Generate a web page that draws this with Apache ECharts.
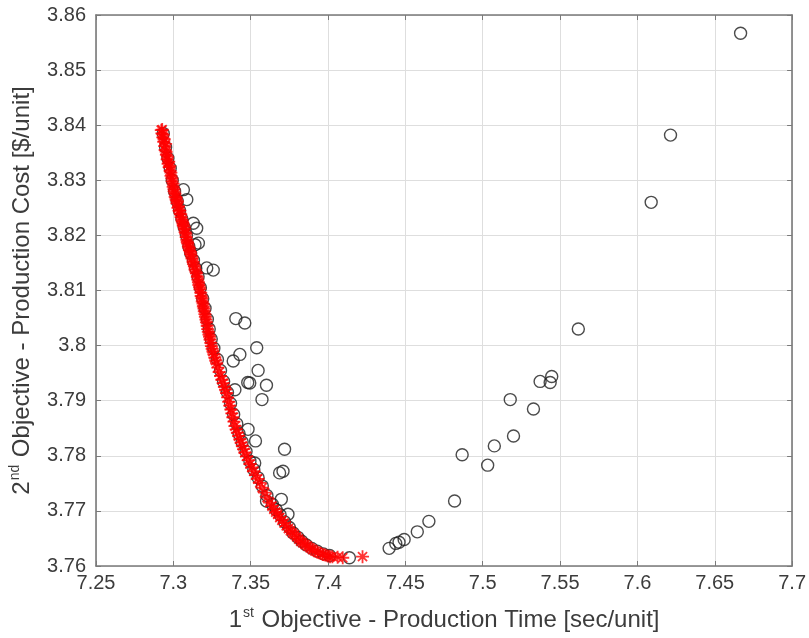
<!DOCTYPE html>
<html>
<head>
<meta charset="utf-8">
<script src="https://cdn.jsdelivr.net/npm/echarts@6/dist/echarts.min.js"></script>
<style>
  html, body { margin: 0; padding: 0; background: #fff; }
  #chart { width: 809px; height: 638px; }
</style>
</head>
<body>
<div id="chart"></div>
<script>
// x = production time [sec/unit], y = production cost [$/unit]
const xTicks = [7.25, 7.3, 7.35, 7.4, 7.45, 7.5, 7.55, 7.6, 7.65, 7.7];
const yTicks = [3.76, 3.77, 3.78, 3.79, 3.8, 3.81, 3.82, 3.83, 3.84, 3.85, 3.86];

// non-dominated solutions (red asterisks)
const paretoFront = [
  [7.2922, 3.8391], [7.2926, 3.8385], [7.2932, 3.8378], [7.2938, 3.8370], [7.2944, 3.8362],
  [7.2947, 3.8355], [7.2955, 3.8346], [7.2960, 3.8338], [7.2966, 3.8330], [7.2973, 3.8324],
  [7.2979, 3.8317], [7.2985, 3.8308], [7.2992, 3.8298], [7.2999, 3.8288], [7.3005, 3.8280],
  [7.3012, 3.8270], [7.3018, 3.8265], [7.3023, 3.8258], [7.3030, 3.8250], [7.3037, 3.8245],
  [7.3043, 3.8240], [7.3050, 3.8233], [7.3058, 3.8225], [7.3064, 3.8218], [7.3072, 3.8212],
  [7.3076, 3.8206], [7.3083, 3.8197], [7.3090, 3.8188], [7.3097, 3.8180], [7.3104, 3.8173],
  [7.3112, 3.8166], [7.3121, 3.8158], [7.3130, 3.8148], [7.3140, 3.8138], [7.3151, 3.8131],
  [7.3158, 3.8120], [7.3165, 3.8110], [7.3172, 3.8102], [7.3180, 3.8090], [7.3187, 3.8080],
  [7.3194, 3.8071], [7.3200, 3.8062], [7.3207, 3.8052], [7.3214, 3.8042], [7.3222, 3.8030],
  [7.3230, 3.8020], [7.3237, 3.8011], [7.3246, 3.7999], [7.3256, 3.7989], [7.3268, 3.7978],
  [7.3280, 3.7968], [7.3296, 3.7952], [7.3314, 3.7938], [7.3330, 3.7925], [7.3344, 3.7914],
  [7.3358, 3.7898], [7.3372, 3.7884], [7.3385, 3.7870], [7.3398, 3.7854], [7.3414, 3.7842],
  [7.3430, 3.7830], [7.3446, 3.7818], [7.3462, 3.7806], [7.3485, 3.7792], [7.3507, 3.7779],
  [7.3532, 3.7765], [7.3559, 3.7751], [7.3590, 3.7733], [7.3623, 3.7715], [7.3650, 3.7703],
  [7.3674, 3.7694], [7.3702, 3.7683], [7.3730, 3.7673], [7.3757, 3.7664], [7.3784, 3.7657],
  [7.3810, 3.7649], [7.3837, 3.7642], [7.3868, 3.7636], [7.3900, 3.7630], [7.3932, 3.7625],
  [7.3966, 3.7621], [7.3998, 3.7618], [7.4028, 3.7617], [7.4095, 3.7615], [7.4223, 3.7617],
  [7.2928, 3.8392], [7.2934, 3.8383], [7.2940, 3.8375], [7.2950, 3.8366], [7.2953, 3.8352],
  [7.2962, 3.8343], [7.2970, 3.8334], [7.2977, 3.8326], [7.2984, 3.8314], [7.2990, 3.8304],
  [7.2998, 3.8294], [7.3004, 3.8284], [7.3010, 3.8276], [7.3017, 3.8268], [7.3026, 3.8262],
  [7.3033, 3.8253], [7.3042, 3.8245], [7.3048, 3.8238], [7.3055, 3.8228], [7.3062, 3.8222],
  [7.3070, 3.8216], [7.3080, 3.8203], [7.3087, 3.8192], [7.3093, 3.8185], [7.3102, 3.8177],
  [7.3110, 3.8170], [7.3118, 3.8162], [7.3127, 3.8152], [7.3136, 3.8144], [7.3146, 3.8134],
  [7.3155, 3.8125], [7.3162, 3.8115], [7.3170, 3.8106], [7.3177, 3.8096], [7.3185, 3.8086],
  [7.3192, 3.8076], [7.3198, 3.8067], [7.3204, 3.8057], [7.3211, 3.8047], [7.3219, 3.8036],
  [7.3226, 3.8025], [7.3234, 3.8016], [7.3242, 3.8005], [7.3251, 3.7994], [7.3262, 3.7984],
  [7.3274, 3.7973], [7.3288, 3.7960], [7.3305, 3.7945], [7.3322, 3.7932], [7.3337, 3.7920],
  [7.3351, 3.7906], [7.3365, 3.7891], [7.3378, 3.7877], [7.3392, 3.7862], [7.3406, 3.7848],
  [7.3422, 3.7836], [7.3438, 3.7824], [7.3454, 3.7812], [7.3473, 3.7799], [7.3496, 3.7785],
  [7.3520, 3.7772], [7.3545, 3.7758], [7.3574, 3.7742], [7.3606, 3.7724], [7.3637, 3.7709],
  [7.3662, 3.7698], [7.3688, 3.7688], [7.3716, 3.7678], [7.3744, 3.7668], [7.3770, 3.7660],
  [7.3797, 3.7653], [7.3823, 3.7645], [7.3852, 3.7639], [7.3884, 3.7633], [7.3916, 3.7627],
  [7.3950, 3.7623], [7.3982, 3.7620], [7.4013, 3.7617], [7.4062, 3.7616]
];

// whole population (black circles)
const population = [
  // along the front
  [7.2935, 3.8385], [7.2950, 3.8360], [7.2965, 3.8340], [7.2980, 3.8322], [7.2993, 3.8300],
  [7.3008, 3.8280], [7.3025, 3.8262], [7.3040, 3.8245], [7.3055, 3.8230], [7.3070, 3.8215],
  [7.3085, 3.8200], [7.3100, 3.8180], [7.3112, 3.8168], [7.3130, 3.8155], [7.3145, 3.8140],
  [7.3160, 3.8125], [7.3175, 3.8105], [7.3190, 3.8085], [7.3205, 3.8068], [7.3220, 3.8048],
  [7.3232, 3.8030], [7.3245, 3.8012], [7.3262, 3.7995], [7.3285, 3.7975], [7.3305, 3.7955],
  [7.3325, 3.7935], [7.3350, 3.7915], [7.3370, 3.7895], [7.3390, 3.7875], [7.3410, 3.7858],
  [7.3425, 3.7840], [7.3445, 3.7825], [7.3470, 3.7808], [7.3495, 3.7790], [7.3520, 3.7775],
  [7.3548, 3.7760], [7.3575, 3.7745], [7.3605, 3.7728], [7.3640, 3.7712], [7.3665, 3.7702],
  [7.3690, 3.7693], [7.3720, 3.7680], [7.3750, 3.7670], [7.3775, 3.7660], [7.3805, 3.7652],
  [7.3830, 3.7645], [7.3860, 3.7638], [7.3895, 3.7632], [7.3930, 3.7627], [7.3970, 3.7622],
  [7.4010, 3.7619],
  // off the front, left branch
  [7.3065, 3.8283], [7.3087, 3.8265], [7.3129, 3.8222], [7.3151, 3.8213], [7.3140, 3.8183],
  [7.3162, 3.8186], [7.3216, 3.8141], [7.3258, 3.8137], [7.3404, 3.8049], [7.3462, 3.8041],
  [7.3539, 3.7996], [7.3430, 3.7984], [7.3387, 3.7972], [7.3548, 3.7955], [7.3494, 3.7932],
  [7.3481, 3.7933], [7.3602, 3.7928], [7.3573, 3.7902], [7.3398, 3.7920], [7.3483, 3.7848],
  [7.3531, 3.7827], [7.3719, 3.7812], [7.3709, 3.7772], [7.3687, 3.7769], [7.3526, 3.7787],
  [7.3698, 3.7721], [7.3741, 3.7694], [7.3602, 3.7718], [7.4138, 3.7615],
  // right branch
  [7.4395, 3.7632], [7.4438, 3.7641], [7.4459, 3.7643], [7.4492, 3.7648], [7.4577, 3.7662],
  [7.4652, 3.7681], [7.4818, 3.7718], [7.4867, 3.7802], [7.5032, 3.7783], [7.5075, 3.7818],
  [7.5199, 3.7836], [7.5178, 3.7902], [7.5328, 3.7885], [7.5371, 3.7935], [7.5436, 3.7933],
  [7.5446, 3.7944], [7.5618, 3.8030], [7.6089, 3.8260], [7.6214, 3.8382], [7.6667, 3.8567]
];

const asterisk = 'path://M0,5L10,5M5,0L5,10M1.5,1.5L8.5,8.5M8.5,1.5L1.5,8.5';
const fmt = (v) => String(+v.toFixed(2));
const font = 'Liberation Sans, Arial, sans-serif';
const axisCol = '#7a7a7a';
const textCol = '#3c3c3c';

const chart = echarts.init(document.getElementById('chart'), null, { renderer: 'canvas' });

const baseAxis = {
  axisLine: { show: true, onZero: false, lineStyle: { color: axisCol, width: 1.6 } },
  axisTick: { show: true, inside: true, length: 5, lineStyle: { color: axisCol, width: 1 } },
  splitLine: { show: false },
};
const titleRich = {
  n: { fontSize: 24, fontFamily: font, color: textCol, lineHeight: 28 },
  s: { fontSize: 14, fontFamily: font, color: textCol, lineHeight: 28, verticalAlign: 'top', padding: [0, 1, 11, 1] }
};

chart.setOption({
  backgroundColor: '#fff',
  animation: false,
  grid: { left: 96, right: 15, top: 15, bottom: 72, containLabel: false },
  xAxis: [
    {
      ...baseAxis,
      type: 'value', min: xTicks[0], max: xTicks[xTicks.length - 1], interval: 0.05,
      axisLabel: { color: textCol, fontSize: 20, fontFamily: font, margin: 7, formatter: fmt },
      splitLine: { show: true, lineStyle: { color: '#dedede', width: 1 } },
      name: '{n|1}{s|st}{n| Objective - Production Time [sec/unit]}',
      nameLocation: 'middle', nameGap: 40,
      nameTextStyle: { color: textCol, fontFamily: font, rich: titleRich }
    },
    {
      ...baseAxis,
      type: 'value', position: 'top', min: xTicks[0], max: xTicks[xTicks.length - 1], interval: 0.05,
      axisLabel: { show: false }
    }
  ],
  yAxis: [
    {
      ...baseAxis,
      type: 'value', min: yTicks[0], max: yTicks[yTicks.length - 1], interval: 0.01,
      axisLabel: { color: textCol, fontSize: 20, fontFamily: font, margin: 10, formatter: fmt },
      splitLine: { show: true, lineStyle: { color: '#dedede', width: 1 } },
      name: '{n|2}{s|nd}{n| Objective - Production Cost [$/unit]}',
      nameLocation: 'middle', nameGap: 60, nameRotate: 90,
      nameTextStyle: { color: textCol, fontFamily: font, rich: titleRich }
    },
    {
      ...baseAxis,
      type: 'value', position: 'right', min: yTicks[0], max: yTicks[yTicks.length - 1], interval: 0.01,
      axisLabel: { show: false }
    }
  ],
  series: [
    {
      name: 'Population',
      type: 'scatter',
      data: population,
      symbol: 'circle',
      symbolSize: 12,
      itemStyle: { color: 'rgba(0,0,0,0)', borderColor: '#1e1e1e', borderWidth: 1.4 },
      z: 2
    },
    {
      name: 'Pareto front',
      type: 'scatter',
      data: paretoFront,
      symbol: asterisk,
      symbolSize: 13,
      itemStyle: { color: 'rgba(0,0,0,0)', borderColor: '#ff0000', borderWidth: 1.8 },
      z: 3
    }
  ]
});
</script>
</body>
</html>
